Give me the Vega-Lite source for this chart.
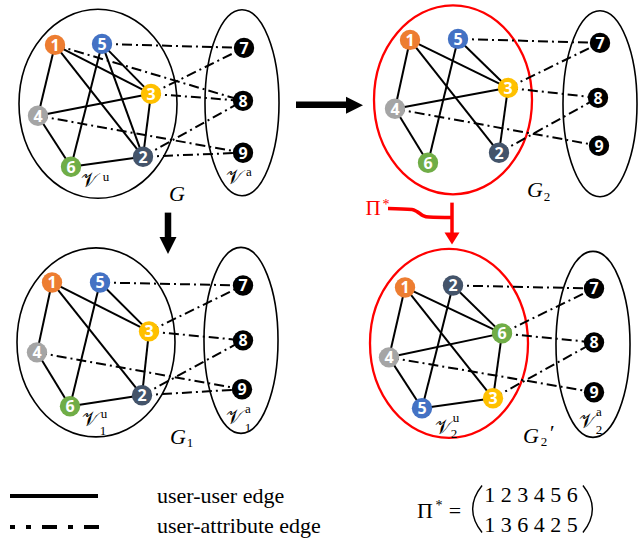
{
  "$schema": "https://vega.github.io/schema/vega-lite/v6.json",
  "width": 644,
  "height": 541,
  "autosize": {"type": "fit", "contains": "padding"},
  "padding": 0,
  "background": "white",
  "config": {"view": {"stroke": null}},
  "datasets": {
    "nodes": [
      {"key": "G-1", "id": "1", "x": 55, "y": 44}, {"key": "G-5", "id": "5", "x": 102, "y": 43}, {"key": "G-3", "id": "3", "x": 151, "y": 93},
      {"key": "G-4", "id": "4", "x": 38, "y": 115}, {"key": "G-6", "id": "6", "x": 71, "y": 166}, {"key": "G-2", "id": "2", "x": 143, "y": 156},
      {"key": "G-7", "id": "7", "x": 244, "y": 47}, {"key": "G-8", "id": "8", "x": 243, "y": 100}, {"key": "G-9", "id": "9", "x": 243, "y": 152},
      {"key": "A-1", "id": "1", "x": 410, "y": 39}, {"key": "A-5", "id": "5", "x": 458, "y": 38}, {"key": "A-3", "id": "3", "x": 508, "y": 87},
      {"key": "A-4", "id": "4", "x": 395, "y": 108}, {"key": "A-6", "id": "6", "x": 428, "y": 162}, {"key": "A-2", "id": "2", "x": 499, "y": 152},
      {"key": "A-7", "id": "7", "x": 600, "y": 42}, {"key": "A-8", "id": "8", "x": 598, "y": 97}, {"key": "A-9", "id": "9", "x": 599, "y": 145},
      {"key": "B-1", "id": "1", "x": 52, "y": 282}, {"key": "B-5", "id": "5", "x": 100, "y": 282}, {"key": "B-3", "id": "3", "x": 149, "y": 331},
      {"key": "B-4", "id": "4", "x": 37, "y": 352}, {"key": "B-6", "id": "6", "x": 70, "y": 406}, {"key": "B-2", "id": "2", "x": 142, "y": 395},
      {"key": "B-7", "id": "7", "x": 243, "y": 285}, {"key": "B-8", "id": "8", "x": 243, "y": 340}, {"key": "B-9", "id": "9", "x": 242, "y": 389},
      {"key": "C-1", "id": "1", "x": 405, "y": 287}, {"key": "C-2", "id": "2", "x": 453, "y": 285}, {"key": "C-6", "id": "6", "x": 502, "y": 333},
      {"key": "C-4", "id": "4", "x": 389, "y": 357}, {"key": "C-5", "id": "5", "x": 422, "y": 408}, {"key": "C-3", "id": "3", "x": 493, "y": 398},
      {"key": "C-7", "id": "7", "x": 594, "y": 288}, {"key": "C-8", "id": "8", "x": 594, "y": 342}, {"key": "C-9", "id": "9", "x": 594, "y": 392}
    ],
    "edges": [
      {"a": "G-1", "b": "G-3", "t": "uu"}, {"a": "G-1", "b": "G-2", "t": "uu"}, {"a": "G-1", "b": "G-4", "t": "uu"}, {"a": "G-5", "b": "G-3", "t": "uu"},
      {"a": "G-5", "b": "G-2", "t": "uu"}, {"a": "G-5", "b": "G-6", "t": "uu"}, {"a": "G-4", "b": "G-3", "t": "uu"}, {"a": "G-4", "b": "G-6", "t": "uu"},
      {"a": "G-3", "b": "G-2", "t": "uu"}, {"a": "G-6", "b": "G-2", "t": "uu"},
      {"a": "G-5", "b": "G-7", "t": "ua"}, {"a": "G-1", "b": "G-8", "t": "ua"}, {"a": "G-3", "b": "G-7", "t": "ua"}, {"a": "G-3", "b": "G-8", "t": "ua"},
      {"a": "G-4", "b": "G-9", "t": "ua"}, {"a": "G-2", "b": "G-8", "t": "ua"}, {"a": "G-2", "b": "G-9", "t": "ua"},
      {"a": "A-1", "b": "A-3", "t": "uu"}, {"a": "A-1", "b": "A-2", "t": "uu"}, {"a": "A-1", "b": "A-4", "t": "uu"}, {"a": "A-5", "b": "A-3", "t": "uu"},
      {"a": "A-5", "b": "A-6", "t": "uu"}, {"a": "A-4", "b": "A-3", "t": "uu"}, {"a": "A-4", "b": "A-6", "t": "uu"}, {"a": "A-3", "b": "A-2", "t": "uu"},
      {"a": "A-5", "b": "A-7", "t": "ua"}, {"a": "A-3", "b": "A-7", "t": "ua"}, {"a": "A-3", "b": "A-8", "t": "ua"}, {"a": "A-4", "b": "A-9", "t": "ua"},
      {"a": "A-2", "b": "A-8", "t": "ua"},
      {"a": "B-1", "b": "B-3", "t": "uu"}, {"a": "B-1", "b": "B-2", "t": "uu"}, {"a": "B-1", "b": "B-4", "t": "uu"}, {"a": "B-5", "b": "B-3", "t": "uu"},
      {"a": "B-5", "b": "B-6", "t": "uu"}, {"a": "B-4", "b": "B-6", "t": "uu"}, {"a": "B-3", "b": "B-2", "t": "uu"}, {"a": "B-6", "b": "B-2", "t": "uu"},
      {"a": "B-5", "b": "B-7", "t": "ua"}, {"a": "B-3", "b": "B-7", "t": "ua"}, {"a": "B-3", "b": "B-8", "t": "ua"}, {"a": "B-4", "b": "B-9", "t": "ua"},
      {"a": "B-2", "b": "B-8", "t": "ua"}, {"a": "B-2", "b": "B-9", "t": "ua"},
      {"a": "C-1", "b": "C-6", "t": "uu"}, {"a": "C-1", "b": "C-3", "t": "uu"}, {"a": "C-1", "b": "C-4", "t": "uu"}, {"a": "C-2", "b": "C-6", "t": "uu"},
      {"a": "C-2", "b": "C-5", "t": "uu"}, {"a": "C-4", "b": "C-6", "t": "uu"}, {"a": "C-4", "b": "C-5", "t": "uu"}, {"a": "C-6", "b": "C-3", "t": "uu"},
      {"a": "C-5", "b": "C-3", "t": "uu"},
      {"a": "C-2", "b": "C-7", "t": "ua"}, {"a": "C-6", "b": "C-7", "t": "ua"}, {"a": "C-6", "b": "C-8", "t": "ua"}, {"a": "C-4", "b": "C-9", "t": "ua"},
      {"a": "C-3", "b": "C-8", "t": "ua"}
    ],
    "ellipses": [
      {"x": 98, "y": 103, "kind": "users", "hl": "no"}, {"x": 242, "y": 102, "kind": "attributes", "hl": "no"},
      {"x": 453, "y": 99, "kind": "users", "hl": "yes"}, {"x": 600, "y": 103, "kind": "attributes", "hl": "no"},
      {"x": 96, "y": 342, "kind": "users", "hl": "no"}, {"x": 241, "y": 340, "kind": "attributes", "hl": "no"},
      {"x": 449, "y": 343, "kind": "users", "hl": "yes"}, {"x": 593, "y": 344, "kind": "attributes", "hl": "no"}
    ],
    "shafts": [
      {"x": 296, "y": 104, "x2": 349, "y2": 104, "c": "black"},
      {"x": 168, "y": 212, "x2": 168, "y2": 239, "c": "black"},
      {"x": 452, "y": 202, "x2": 452, "y2": 234, "c": "red"}
    ],
    "heads": [
      {"x": 354.5, "y": 104.5, "dir": "right", "c": "black"},
      {"x": 168, "y": 245, "dir": "down", "c": "black"},
      {"x": 452, "y": 238, "dir": "down", "c": "red"}
    ],
    "bracket": [
      {"x": 388, "y": 208, "o": 1}, {"x": 412, "y": 209, "o": 2}, {"x": 417, "y": 211, "o": 3},
      {"x": 423, "y": 215, "o": 4}, {"x": 429, "y": 216.5, "o": 5}, {"x": 452, "y": 217, "o": 6}
    ],
    "legendlines": [
      {"x": 10, "y": 496, "x2": 98, "y2": 496, "t": "uu"},
      {"x": 10, "y": 527, "x2": 99, "y2": 527, "t": "ua"}
    ],
    "parens": [
      {"x": 475, "y": 509, "s": "open"}, {"x": 590, "y": 509, "s": "close"}
    ],
    "labels": [
      {"text": "G", "x": 177, "y": 193, "r": "g"}, {"text": "G", "x": 535, "y": 189, "r": "g"},
      {"text": "G", "x": 178, "y": 437, "r": "g"}, {"text": "G", "x": 531, "y": 436, "r": "g"},
      {"text": "′", "x": 551, "y": 433, "r": "g"},
      {"text": "2", "x": 547, "y": 196, "r": "s"}, {"text": "1", "x": 190, "y": 443, "r": "s"}, {"text": "2", "x": 544, "y": 442, "r": "s"},
      {"text": "𝒱", "x": 89, "y": 180, "r": "v"}, {"text": "𝒱", "x": 234, "y": 177, "r": "v"},
      {"text": "𝒱", "x": 90, "y": 420, "r": "v"}, {"text": "𝒱", "x": 234, "y": 418, "r": "v"},
      {"text": "𝒱", "x": 443, "y": 428, "r": "v"}, {"text": "𝒱", "x": 587, "y": 422, "r": "v"},
      {"text": "u", "x": 106, "y": 176, "r": "s"}, {"text": "a", "x": 249, "y": 171, "r": "s"},
      {"text": "u", "x": 104, "y": 414, "r": "s"}, {"text": "1", "x": 103, "y": 431, "r": "s"},
      {"text": "a", "x": 248, "y": 409, "r": "s"}, {"text": "1", "x": 248, "y": 428, "r": "s"},
      {"text": "u", "x": 456, "y": 418, "r": "s"}, {"text": "2", "x": 454, "y": 434, "r": "s"},
      {"text": "a", "x": 599, "y": 412, "r": "s"}, {"text": "2", "x": 599, "y": 430, "r": "s"}
    ],
    "redtext": [
      {"text": "Π", "x": 373, "y": 208, "r": "big"}, {"text": "*", "x": 386, "y": 204, "r": "star"}
    ],
    "legendtext": [
      {"text": "user-user edge", "x": 157, "y": 496},
      {"text": "user-attribute edge", "x": 157, "y": 526}
    ],
    "mathtext": [
      {"text": "Π", "x": 425, "y": 511, "r": "big"}, {"text": "*", "x": 439, "y": 506, "r": "star"},
      {"text": "=", "x": 455, "y": 511, "r": "big"},
      {"text": "1 2 3 4 5 6", "x": 531, "y": 495, "r": "big"},
      {"text": "1 3 6 4 2 5", "x": 531, "y": 525, "r": "big"}
    ]
  },
  "encoding": {
    "x": {"field": "x", "type": "quantitative", "scale": {"domain": [0, 644], "nice": false, "zero": false}, "axis": null},
    "y": {"field": "y", "type": "quantitative", "scale": {"domain": [0, 541], "nice": false, "zero": false, "reverse": true}, "axis": null}
  },
  "layer": [
    {
      "data": {"name": "ellipses"},
      "transform": [{"filter": "datum.kind === 'users'"}],
      "mark": {"type": "point", "filled": false, "opacity": 1, "size": 35721, "shape": "M-0.836,0A0.836,1,0,1,0,0.836,0A0.836,1,0,1,0,-0.836,0Z"},
      "encoding": {
        "stroke": {"field": "hl", "type": "nominal", "scale": {"domain": ["no", "yes"], "range": ["#000000", "#FF0000"]}, "legend": null},
        "strokeWidth": {"field": "hl", "type": "nominal", "scale": {"domain": ["no", "yes"], "range": [1.6, 2.3]}, "legend": null}
      }
    },
    {
      "data": {"name": "ellipses"},
      "transform": [{"filter": "datum.kind === 'attributes'"}],
      "mark": {"type": "point", "filled": false, "opacity": 1, "size": 34596, "strokeWidth": 1.6, "stroke": "#000000", "shape": "M-0.398,0A0.398,1,0,1,0,0.398,0A0.398,1,0,1,0,-0.398,0Z"}
    },
    {
      "data": {"name": "edges"},
      "transform": [
        {"filter": "datum.t === 'uu'"},
        {"lookup": "a", "from": {"data": {"name": "nodes"}, "key": "key", "fields": ["x", "y"]}, "as": ["x", "y"]},
        {"lookup": "b", "from": {"data": {"name": "nodes"}, "key": "key", "fields": ["x", "y"]}, "as": ["x2", "y2"]}
      ],
      "mark": {"type": "rule", "color": "#000000", "strokeWidth": 2},
      "encoding": {"x2": {"field": "x2"}, "y2": {"field": "y2"}}
    },
    {
      "data": {"name": "edges"},
      "transform": [
        {"filter": "datum.t === 'ua'"},
        {"lookup": "a", "from": {"data": {"name": "nodes"}, "key": "key", "fields": ["x", "y"]}, "as": ["x", "y"]},
        {"lookup": "b", "from": {"data": {"name": "nodes"}, "key": "key", "fields": ["x", "y"]}, "as": ["x2", "y2"]}
      ],
      "mark": {"type": "rule", "color": "#000000", "strokeWidth": 2, "strokeDash": [10, 4, 2, 4]},
      "encoding": {"x2": {"field": "x2"}, "y2": {"field": "y2"}}
    },
    {
      "data": {"name": "nodes"},
      "mark": {"type": "point", "filled": true, "opacity": 1, "shape": "circle", "size": 415, "strokeWidth": 0},
      "encoding": {
        "color": {"field": "id", "type": "nominal", "scale": {"domain": ["1", "2", "3", "4", "5", "6", "7", "8", "9"], "range": ["#ED7D31", "#44546A", "#FFC000", "#A5A5A5", "#4472C4", "#70AD47", "#000000", "#000000", "#000000"]}, "legend": null}
      }
    },
    {
      "data": {"name": "nodes"},
      "mark": {"type": "text", "color": "#FFFFFF", "font": "Open Sans", "fontWeight": "bold", "fontSize": 16, "align": "center", "baseline": "middle", "dy": 1},
      "encoding": {"text": {"field": "id"}}
    },
    {
      "data": {"name": "shafts"},
      "transform": [{"filter": "datum.c === 'black'"}],
      "mark": {"type": "rule", "color": "#000000", "strokeWidth": 6.5},
      "encoding": {"x2": {"field": "x2"}, "y2": {"field": "y2"}}
    },
    {
      "data": {"name": "shafts"},
      "transform": [{"filter": "datum.c === 'red'"}],
      "mark": {"type": "rule", "color": "#FF0000", "strokeWidth": 3.5},
      "encoding": {"x2": {"field": "x2"}, "y2": {"field": "y2"}}
    },
    {
      "data": {"name": "bracket"},
      "mark": {"type": "line", "color": "#FF0000", "strokeWidth": 3.5, "interpolate": "monotone"},
      "encoding": {"order": {"field": "o", "type": "quantitative"}}
    },
    {
      "data": {"name": "heads"},
      "transform": [{"filter": "datum.dir === 'right'"}],
      "mark": {"type": "point", "filled": true, "opacity": 1, "color": "#000000", "size": 289, "strokeWidth": 0, "shape": "M-1,-1L1,0L-1,1Z"}
    },
    {
      "data": {"name": "heads"},
      "transform": [{"filter": "datum.dir === 'down' && datum.c === 'black'"}],
      "mark": {"type": "point", "filled": true, "opacity": 1, "color": "#000000", "size": 289, "strokeWidth": 0, "shape": "M-1,-1L1,-1L0,1Z"}
    },
    {
      "data": {"name": "heads"},
      "transform": [{"filter": "datum.c === 'red'"}],
      "mark": {"type": "point", "filled": true, "opacity": 1, "color": "#FF0000", "size": 225, "strokeWidth": 0, "shape": "M-1,-0.8L1,-0.8L0,0.8Z"}
    },
    {
      "data": {"name": "labels"},
      "transform": [{"filter": "datum.r === 'g'"}],
      "mark": {"type": "text", "font": "Liberation Serif", "fontStyle": "italic", "fontSize": 22, "color": "#000000", "align": "center", "baseline": "middle"},
      "encoding": {"text": {"field": "text"}}
    },
    {
      "data": {"name": "labels"},
      "transform": [{"filter": "datum.r === 'v'"}],
      "mark": {"type": "text", "fontSize": 20, "color": "#000000", "align": "center", "baseline": "middle"},
      "encoding": {"text": {"field": "text"}}
    },
    {
      "data": {"name": "labels"},
      "transform": [{"filter": "datum.r === 's'"}],
      "mark": {"type": "text", "font": "Liberation Serif", "fontSize": 13, "color": "#000000", "align": "center", "baseline": "middle"},
      "encoding": {"text": {"field": "text"}}
    },
    {
      "data": {"name": "redtext"},
      "transform": [{"filter": "datum.r === 'big'"}],
      "mark": {"type": "text", "font": "Liberation Serif", "fontSize": 21, "color": "#FF0000", "align": "center", "baseline": "middle"},
      "encoding": {"text": {"field": "text"}}
    },
    {
      "data": {"name": "redtext"},
      "transform": [{"filter": "datum.r === 'star'"}],
      "mark": {"type": "text", "font": "Liberation Serif", "fontSize": 14, "color": "#FF0000", "align": "center", "baseline": "middle"},
      "encoding": {"text": {"field": "text"}}
    },
    {
      "data": {"name": "legendlines"},
      "transform": [{"filter": "datum.t === 'uu'"}],
      "mark": {"type": "rule", "color": "#000000", "strokeWidth": 4},
      "encoding": {"x2": {"field": "x2"}, "y2": {"field": "y2"}}
    },
    {
      "data": {"name": "legendlines"},
      "transform": [{"filter": "datum.t === 'ua'"}],
      "mark": {"type": "rule", "color": "#000000", "strokeWidth": 4, "strokeDash": [15, 11, 5, 11], "strokeDashOffset": 10},
      "encoding": {"x2": {"field": "x2"}, "y2": {"field": "y2"}}
    },
    {
      "data": {"name": "legendtext"},
      "mark": {"type": "text", "font": "Liberation Serif", "fontSize": 22, "color": "#000000", "align": "left", "baseline": "middle"},
      "encoding": {"text": {"field": "text"}}
    },
    {
      "data": {"name": "mathtext"},
      "transform": [{"filter": "datum.r === 'big'"}],
      "mark": {"type": "text", "font": "Liberation Serif", "fontSize": 22, "color": "#000000", "align": "center", "baseline": "middle"},
      "encoding": {"text": {"field": "text"}}
    },
    {
      "data": {"name": "mathtext"},
      "transform": [{"filter": "datum.r === 'star'"}],
      "mark": {"type": "text", "font": "Liberation Serif", "fontSize": 14, "color": "#000000", "align": "center", "baseline": "middle"},
      "encoding": {"text": {"field": "text"}}
    },
    {
      "data": {"name": "parens"},
      "transform": [{"filter": "datum.s === 'open'"}],
      "mark": {"type": "point", "filled": false, "opacity": 1, "color": "#000000", "strokeWidth": 1.4, "size": 2209, "shape": "M0.3,-1Q-0.5,0,0.3,1"}
    },
    {
      "data": {"name": "parens"},
      "transform": [{"filter": "datum.s === 'close'"}],
      "mark": {"type": "point", "filled": false, "opacity": 1, "color": "#000000", "strokeWidth": 1.4, "size": 2209, "shape": "M-0.3,-1Q0.5,0,-0.3,1"}
    }
  ]
}
